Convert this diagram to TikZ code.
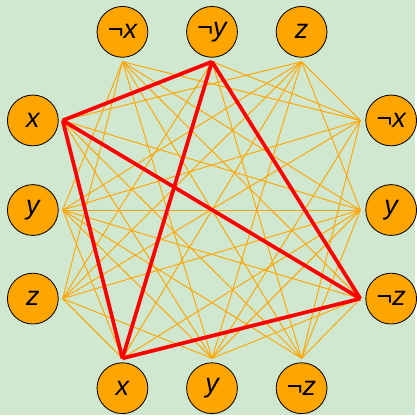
\documentclass[tikz,border=0pt]{standalone}
\usepackage{fontspec}
\setmainfont{Liberation Sans}
\definecolor{bggreen}{RGB}{208,231,208}
\definecolor{litorange}{RGB}{255,165,0}
\tikzset{
  literal/.style={circle,draw=black,fill=litorange,minimum size=24.5pt,inner sep=0pt,
    font=\fontsize{13}{15}\selectfont\itshape},
  edge/.style={draw=litorange,line width=0.45pt},
  clique/.style={draw=red,line width=1.8pt}
}
\begin{document}
\begin{tikzpicture}[x=0.48pt,y=-0.48pt]
  \fill[bggreen] (0,0) rectangle (417,417);
  \foreach \n/\t/\cx/\cy/\px/\py in {
      t1/¬x/123/32/123/62, t2/¬y/213/32/213/62, t3/z/303/32/303/62,
      r1/¬x/393/121/362/121, r2/y/393/211/362/211, r3/¬z/393/300/362/300,
      b1/x/123/390/123/360, b2/y/213/390/213/360, b3/¬z/303/390/303/360,
      l1/x/33/121/63/121, l2/y/33/211/63/211, l3/z/33/300/63/300}{
    \node[literal] (\n) at (\cx,\cy) {\t};
    \coordinate (\n p) at (\px,\py);
  }
  \foreach \a/\b in {t1/r1,t1/r2,t1/r3,t2/r1,t2/r3,t3/r1,t3/r2,
      t1/b2,t1/b3,t2/b1,t2/b3,t3/b1,t3/b2,
      t1/l2,t1/l3,t2/l1,t2/l3,t3/l1,t3/l2,t3/l3,
      r1/b2,r1/b3,r2/b1,r2/b2,r2/b3,r3/b1,r3/b2,r3/b3,
      r1/l2,r1/l3,r2/l1,r2/l2,r2/l3,r3/l1,r3/l2,
      b1/l1,b1/l2,b1/l3,b2/l1,b2/l2,b2/l3,b3/l1,b3/l2}
    \draw[edge] (\a p) -- (\b p);
  \foreach \a/\b in {t2/l1,t2/b1,t2/r3,l1/r3,l1/b1,b1/r3}
    \draw[clique] (\a p) -- (\b p);
\end{tikzpicture}
\end{document}
